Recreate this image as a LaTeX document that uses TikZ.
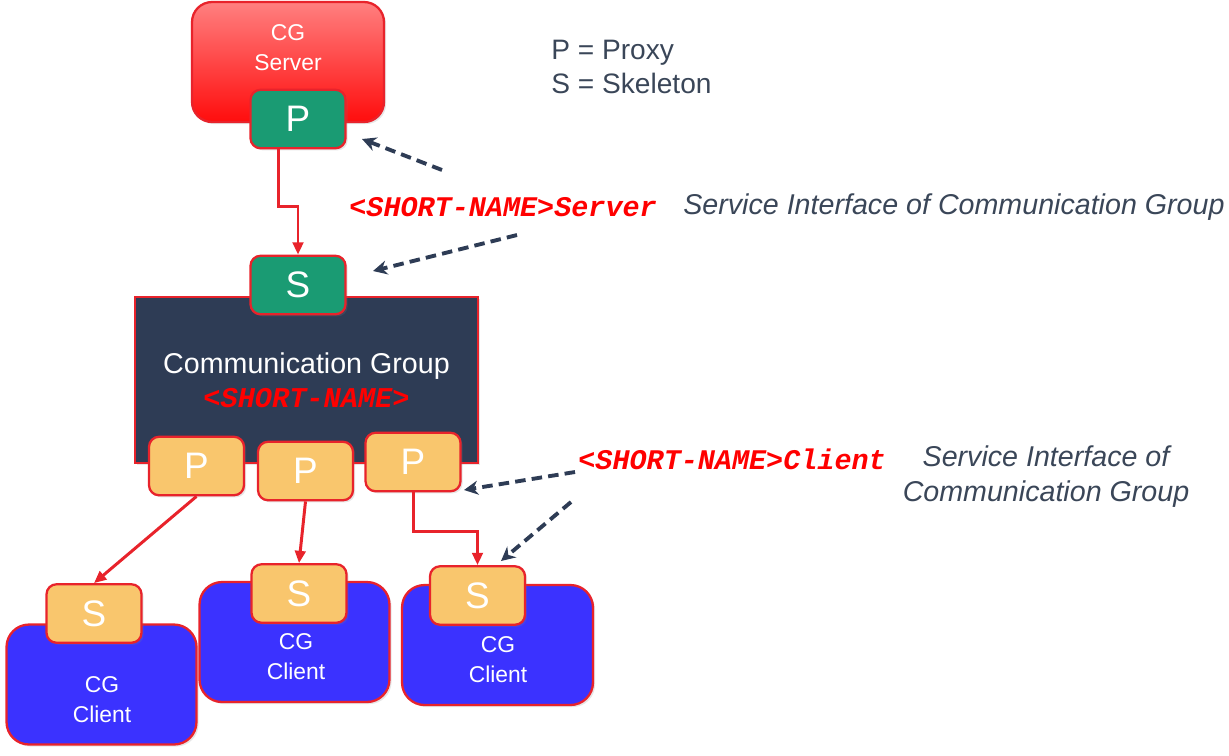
\documentclass[tikz,border=0pt]{standalone}
\usepackage{fontspec}
\setmainfont{Liberation Sans}
\setmonofont{Liberation Mono}
\usetikzlibrary{arrows.meta,shadows}
\definecolor{cgred}{HTML}{E8232B}
\definecolor{cgnavy}{HTML}{2E3C55}
\definecolor{cggreen}{HTML}{1A9B73}
\definecolor{cgorange}{HTML}{F9C66D}
\definecolor{cgblue}{HTML}{3B32FF}
\definecolor{cgtext}{HTML}{3A4658}
\begin{document}
\begin{tikzpicture}[x=0.02cm,y=-0.02cm]
    \tikzstyle{shade}=[drop shadow={opacity=0.2,shadow xshift=1.2pt,shadow yshift=-1.2pt}]
    \tikzstyle{port}=[draw=cgred,line width=1.3pt,rounded corners=0.2cm,shade,minimum width=1.9cm,minimum height=1.17cm,inner sep=0pt,text=white,font=\fontsize{21}{21}\selectfont]
    \tikzstyle{portG}=[port,fill=cggreen]
    \tikzstyle{portO}=[port,fill=cgorange]
    \tikzstyle{client}=[draw=cgred,line width=1.3pt,rounded corners=0.45cm,shade,fill=cgblue,minimum width=3.8cm,minimum height=2.4cm]
    \tikzstyle{lbl}=[text=white,align=center,inner sep=0pt,font=\fontsize{13}{17}\selectfont]
    \tikzstyle{mono}=[text=red,inner sep=0pt,font=\fontsize{16.2}{19.5}\selectfont\ttfamily\bfseries\itshape]
    \tikzstyle{note}=[text=cgtext,inner sep=0pt,font=\fontsize{16.3}{20}\selectfont\itshape]
    \tikzstyle{wire}=[draw=cgred,line width=1.7pt,-{Triangle[length=7pt,width=6pt]}]
    \tikzstyle{pointer}=[draw=cgnavy,line width=2.2pt,dash pattern=on 6pt off 3.5pt,-{Stealth[length=8pt,width=8pt]}]
    \useasboundingbox (0,0) rectangle (1229,755);
    \node[draw=cgred,line width=1.3pt,rounded corners=0.4cm,shade,top color=red!50,bottom color=red!95,minimum width=3.84cm,minimum height=2.4cm] (server) at (288,62) {};
    \node[lbl] (servertext) at (288,48) {CG\\Server};
    \node[portG] (psrv) at (298,119) {P};
    \node[draw=cgred,line width=1.3pt,fill=cgnavy,shade,minimum width=6.86cm,minimum height=3.32cm,align=center,text=white,font=\fontsize{16.3}{19.5}\selectfont] (group) at (306.5,380) {Communication Group\\{\ttfamily\bfseries\itshape\color{red}<SHORT-NAME>}};
    \node[portG] (sgrp) at (298,285) {S};
    \node[portO] (pa) at (196.5,466) {P};
    \node[portO] (pb) at (305.5,471) {P};
    \node[portO] (pc) at (413,462) {P};
    \node[client] (ca) at (101.5,684.5) {};
    \node[lbl] (catext) at (102,700) {CG\\Client};
    \node[portO] (sa) at (94,613.5) {S};
    \node[client] (cb) at (294.5,642) {};
    \node[lbl] (cbtext) at (296,657) {CG\\Client};
    \node[portO] (sb) at (299,593.5) {S};
    \node[client,minimum width=3.82cm] (cc) at (497.5,645) {};
    \node[lbl] (cctext) at (498,660) {CG\\Client};
    \node[portO] (sc) at (477.5,595.5) {S};
    \node[text=cgtext,align=left,anchor=west,inner sep=0pt,font=\fontsize{16}{19.8}\selectfont] (legend) at (551,67) {P = Proxy\\S = Skeleton};
    \node[mono,anchor=west] (srvname) at (349,207) {<SHORT-NAME>Server};
    \node[note,anchor=west] (srvnote) at (683,207) {Service Interface of Communication Group};
    \node[mono,anchor=west] (cltname) at (578,459) {<SHORT-NAME>Client};
    \node[note,align=center] (cltnote) at (1046,477) {Service Interface of\\Communication Group};
    \draw[wire] ([xshift=-0.4cm]psrv.south) -- ++(0,57) -| (sgrp.north);
    \draw[wire] (pa.south) -- (sa.north);
    \draw[wire] (pb.south) -- (sb.north);
    \draw[wire] (pc.south) -- ++(0,39) -| (sc.north);
    \coordinate (n1) at (442,170);
    \coordinate (t1) at (362,139);
    \coordinate (n2) at (517,235);
    \coordinate (t2) at (373,271);
    \coordinate (n3) at (575,472);
    \coordinate (t3) at (464,490);
    \coordinate (n4) at (571,502);
    \coordinate (t4) at (501,561);
    \draw[pointer] (n1) -- (t1);
    \draw[pointer] (n2) -- (t2);
    \draw[pointer] (n3) -- (t3);
    \draw[pointer] (n4) -- (t4);
\end{tikzpicture}
\end{document}
